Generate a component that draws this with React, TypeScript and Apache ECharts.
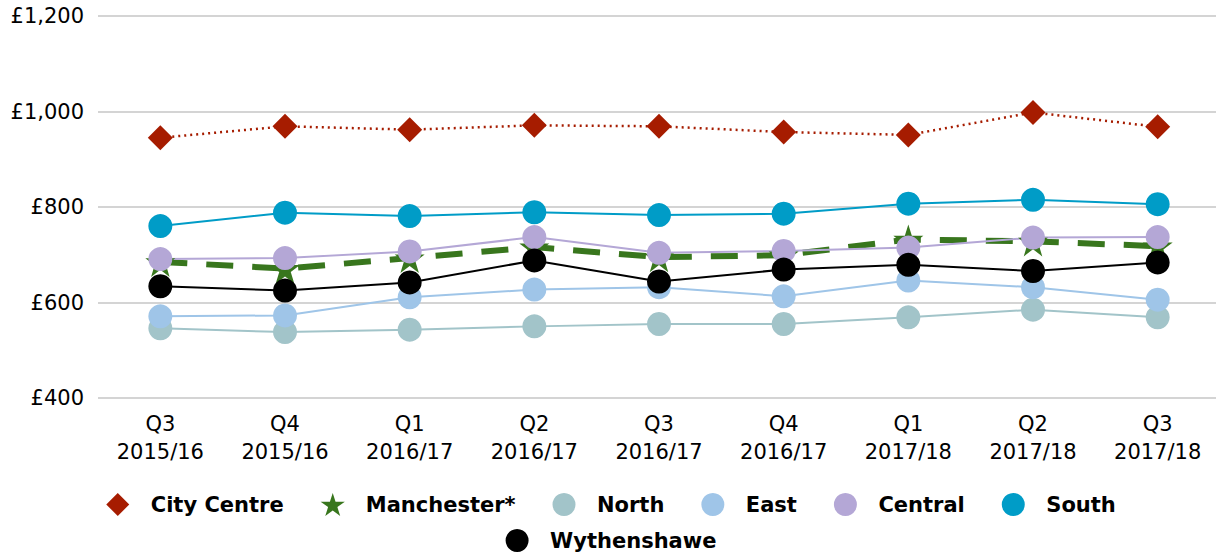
import React, { useEffect, useRef } from "react";
import * as echarts from "echarts";

const quarters = ["Q3\n2015/16", "Q4\n2015/16", "Q1\n2016/17", "Q2\n2016/17", "Q3\n2016/17", "Q4\n2016/17", "Q1\n2017/18", "Q2\n2017/18", "Q3\n2017/18"];

const cityCentre = [945, 969, 962, 971, 969, 957, 951, 998, 968];
const manchester = [685, 671, 693, 716, 695, 699, 732, 728, 718];
const north = [546, 538, 543, 550, 555, 555, 569, 585, 569];
const east = [571, 573, 611, 627, 632, 613, 646, 632, 606];
const central = [691, 693, 707, 737, 704, 708, 715, 736, 737];
const south = [760, 788, 781, 789, 783, 786, 807, 815, 806];
const wythenshawe = [634, 625, 642, 688, 644, 669, 679, 666, 684];

const yMin = 400;
const yMax = 1200;
const yStep = 200;

const FONT = "DejaVu Sans";
const STAR = "path://M12,0 L14.8,8.6 L24,8.6 L16.6,14 L19.4,22.8 L12,17.4 L4.6,22.8 L7.4,14 L0,8.6 L9.2,8.6 Z";
const DIAMOND = "path://M12,0 L24,12 L12,24 L0,12 Z";

export default function App() {
  const ref = useRef<HTMLDivElement>(null);
  useEffect(() => {
    if (!ref.current) return;
    const chart = echarts.init(ref.current, null, { renderer: "svg" });
    const circleSeries = (name: string, data: number[], color: string) => ({
      name,
      type: "line",
      data,
      symbol: "circle",
      symbolSize: 24,
      lineStyle: { color, width: 2 },
      itemStyle: { color, borderWidth: 0 },
    });
    const legendText = { fontFamily: FONT, fontSize: 21, fontWeight: "bold", color: "#000" };
    chart.setOption({
      animation: false,
      backgroundColor: "#ffffff",
      grid: { left: 98, right: 2, top: 16, bottom: 158, containLabel: false },
      xAxis: {
        type: "category",
        data: quarters,
        boundaryGap: true,
        axisLine: { show: false },
        axisTick: { show: false },
        axisLabel: { fontFamily: FONT, fontSize: 21, color: "#000", lineHeight: 28, margin: 12, interval: 0 },
        splitLine: { show: false },
      },
      yAxis: {
        type: "value",
        min: yMin,
        max: yMax,
        interval: yStep,
        axisLine: { show: false },
        axisTick: { show: false },
        axisLabel: {
          fontFamily: FONT,
          fontSize: 21,
          color: "#000",
          margin: 14,
          formatter: (v: number) => "£" + v.toLocaleString("en-GB"),
        },
        splitLine: { lineStyle: { color: "#d4d4d4", width: 2 } },
      },
      legend: [
        {
          data: [
            { name: "City Centre", icon: DIAMOND },
            { name: "Manchester*", icon: STAR },
            { name: "North", icon: "circle" },
            { name: "East", icon: "circle" },
            { name: "Central", icon: "circle" },
            { name: "South", icon: "circle" },
          ],
          left: "center",
          top: 488,
          itemWidth: 56,
          itemHeight: 23,
          itemGap: 37,
          symbolKeepAspect: true,
          textStyle: legendText,
        },
        {
          data: [{ name: "Wythenshawe", icon: "circle" }],
          left: "center",
          top: 524,
          itemWidth: 56,
          itemHeight: 23,
          symbolKeepAspect: true,
          textStyle: legendText,
        },
      ],
      series: [
        {
          name: "City Centre",
          type: "line",
          data: cityCentre,
          symbol: DIAMOND,
          symbolSize: 25,
          lineStyle: { color: "#a61c00", width: 2.5, type: [2, 4] },
          itemStyle: { color: "#a61c00", borderWidth: 0 },
        },
        {
          name: "Manchester*",
          type: "line",
          data: manchester,
          symbol: STAR,
          symbolSize: 30,
          lineStyle: { color: "#38761d", width: 6, type: [27, 19] },
          itemStyle: { color: "#38761d", borderWidth: 0 },
        },
        circleSeries("North", north, "#a2c4c9"),
        circleSeries("East", east, "#9fc5e8"),
        circleSeries("Central", central, "#b4a7d6"),
        circleSeries("South", south, "#009cc7"),
        circleSeries("Wythenshawe", wythenshawe, "#000000"),
      ],
    });
    return () => chart.dispose();
  }, []);
  return <div ref={ref} style={{ position: "fixed", left: 0, top: 0, width: 1222, height: 556 }} />;
}
